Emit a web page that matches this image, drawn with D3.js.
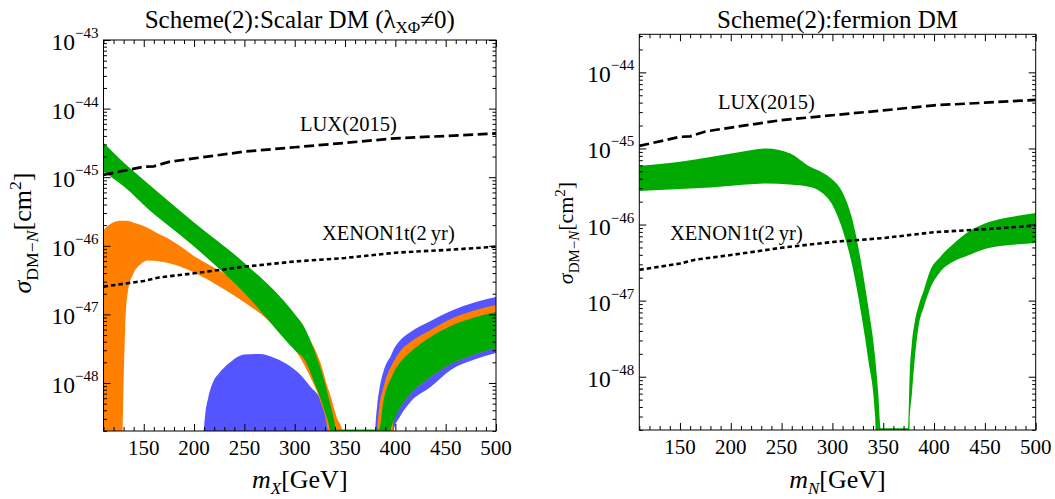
<!DOCTYPE html>
<html>
<head>
<meta charset="utf-8">
<script src="https://cdn.jsdelivr.net/npm/d3@7"></script>
<style>
  body { margin: 0; background: #fff; }
  svg { display: block; font-family: "Liberation Serif", "Times New Roman", serif; }
</style>
</head>
<body>
<svg id="chart" width="1055" height="499"></svg>
<script>
'use strict';

// ---- values (masses in GeV, cross sections in cm^2) ----
// 1e-50 marks a band edge that runs below the plotted range

var massTicks = [150, 200, 250, 300, 350, 400, 450, 500];

var luxMass = [110, 150, 160, 175, 200, 250, 300, 350, 400, 450, 500];
var lux2015 = [1.08e-45, 1.42e-45, 1.44e-45, 1.67e-45, 1.88e-45, 2.36e-45, 2.73e-45, 3.16e-45, 3.69e-45, 3.99e-45, 4.35e-45];

var xenonMass = [110, 150, 165, 200, 250, 300, 350, 400, 450, 500];
var xenon1t = [2.54e-47, 3.07e-47, 3.45e-47, 3.97e-47, 4.96e-47, 5.90e-47, 6.64e-47, 7.93e-47, 8.69e-47, 9.70e-47];

// scalar DM, green band
var scalarGreenMass = [110, 135, 150, 200, 250, 300, 310, 320, 330, 335, 338, 341.7, 343, 382, 384, 388, 393, 395, 398, 405, 415, 435, 455, 480, 500];
var scalarGreenLo = [1.20e-45, 6.40e-46, 3.94e-46, 9.77e-47, 2.05e-47, 3.03e-48, 2.16e-48, 9.67e-49, 3.78e-49, 1.95e-49,
  1e-50, 1e-50, 1e-50, 1e-50, 1e-50, 1e-50, 1e-50,
  1.95e-49, 2.70e-49, 4.47e-49, 6.92e-49, 1.22e-48, 1.89e-48, 2.65e-48, 3.24e-48];
var scalarGreenHi = [3.18e-45, 1.41e-45, 9.10e-46, 2.19e-46, 5.62e-47, 1.01e-47, 6.34e-48, 2.83e-48, 1.00e-48, 5.11e-49,
  3.42e-49, 2.1e-49, 2.1e-49, 2.1e-49, 2.1e-49, 5.29e-49, 9.67e-49,
  1.11e-48, 1.40e-48, 2.02e-48, 2.83e-48, 4.69e-48, 6.78e-48, 9.16e-48, 1.08e-47];

// scalar DM, orange band
var scalarOrangeMass = [110, 116, 122, 127, 128.9, 129.5, 131.5, 134.5, 139.5, 146,
  154, 166, 176, 186, 201, 226, 251, 275, 300, 305,
  315, 325, 333, 335, 342, 347.5, 349, 380, 382, 384,
  388, 393, 395, 398, 405, 415, 435, 455, 480, 500];
var scalarOrangeLo = [1e-50, 1e-50, 1e-50, 1e-50, 1.95e-49, 4.78e-49, 5.93e-48, 2.27e-47, 3.88e-47, 5.25e-47,
  6.11e-47, 5.90e-47, 5.52e-47, 4.99e-47, 4.01e-47, 2.51e-47, 1.47e-47, 7.88e-48, 3.08e-48, 2.39e-48,
  1.26e-48, 5.65e-49, 1.95e-49, 1e-50, 1e-50, 1e-50, 1e-50, 1e-50, 1e-50, 1e-50,
  1e-50, 1e-50, 1e-50, 2.70e-49, 4.47e-49, 6.92e-49, 1.22e-48, 1.89e-48, 2.65e-48, 3.24e-48];
var scalarOrangeHi = [1.70e-46, 2.04e-46, 2.26e-46, 2.32e-46, 2.32e-46, 2.32e-46, 2.31e-46, 2.30e-46, 2.19e-46, 2.04e-46,
  1.82e-46, 1.46e-46, 1.24e-46, 9.93e-47, 6.93e-47, 4.30e-47, 2.51e-47, 1.49e-47, 7.74e-48, 6.34e-48,
  4.24e-48, 2.09e-48, 8.45e-49, 6.92e-49, 3.09e-49, 1.95e-49, 1e-50, 1e-50, 1.95e-49, 4.32e-49,
  8.45e-49, 1.45e-48, 1.65e-48, 2.02e-48, 2.93e-48, 3.96e-48, 5.93e-48, 8.57e-48, 1.16e-47, 1.37e-47];

// scalar DM, blue band
var scalarBlueMass = [209.5, 211, 214, 219, 225, 235, 250, 265, 280, 295, 305, 315, 325, 331, 335,
  336, 379, 380, 382, 384, 388, 393, 395, 398, 405, 415, 435, 455, 480, 500];
var scalarBlueLo = [1e-50, 1e-50, 1e-50, 1e-50, 1e-50, 1e-50, 1e-50, 1e-50, 1e-50, 1e-50, 1e-50, 1e-50, 1e-50, 1e-50, 1e-50,
  1e-50, 1e-50, 1e-50, 1e-50, 1e-50, 1e-50, 1e-50, 1e-50, 1.95e-49, 3.30e-49, 5.29e-49, 8.75e-49, 1.55e-48, 2.24e-48, 2.74e-48];
var scalarBlueHi = [1.95e-49, 3.42e-49, 6.04e-49, 1.04e-48, 1.40e-48, 1.96e-48, 2.61e-48, 2.65e-48, 2.31e-48, 1.77e-48, 1.35e-48, 9.04e-49, 6.04e-49, 3.78e-49, 1.95e-49,
  1e-50, 1e-50, 1.95e-49, 4.78e-49, 7.91e-49, 1.45e-48, 2.16e-48, 2.4e-48, 3.03e-48, 4.24e-48, 5.54e-48, 8.01e-48, 1.12e-47, 1.52e-47, 1.79e-47];

// fermion DM, green band
var fermionMass = [110, 150, 180, 215, 235, 258, 278, 290, 300, 310,
  320, 328, 335, 342, 345, 347.5, 373.5, 374.5, 376, 378,
  381, 385, 390, 396, 406, 420, 432, 450, 465, 480, 500];
var fermionLo = [2.76e-46, 2.93e-46, 3.07e-46, 3.36e-46, 3.46e-46, 3.36e-46, 3.11e-46, 2.60e-46, 1.81e-46, 8.48e-47,
  2.69e-47, 7.10e-48, 1.76e-48, 3e-49, 1e-50, 1e-50, 1e-50, 1e-50, 2.54e-49, 5.58e-49,
  1.71e-48, 4.79e-48, 8.26e-48, 1.42e-47, 2.38e-47, 3.32e-47, 3.86e-47, 4.78e-47, 5.23e-47, 5.47e-47, 5.73e-47];
var fermionHi = [5.93e-46, 6.70e-46, 7.73e-46, 9.25e-46, 1.00e-45, 8.63e-46, 5.75e-46, 4.84e-46, 3.90e-46, 2.64e-46,
  1.11e-46, 3.32e-47, 8.77e-48, 1.82e-48, 6.3e-49, 2.1e-49, 2.1e-49, 2.1e-49, 1.05e-48, 2.61e-48,
  5.24e-48, 8.77e-48, 1.38e-47, 2.45e-47, 3.75e-47, 5.73e-47, 7.74e-47, 1.03e-46, 1.18e-46, 1.29e-46, 1.42e-46];

var scalarDecades = [-43, -44, -45, -46, -47, -48];
var fermionDecades = [-44, -45, -46, -47, -48];

var GREEN = '#00aa00', ORANGE = '#ff8000', BLUE = '#5555ff';

var svg = d3.select('#chart');

function drawPanel(p) {
  var x = d3.scaleLinear().domain([110, 500]).range([p.left, p.right]);
  var y = d3.scaleLog().domain([p.yMin, p.yMax]).range([p.bottom, p.top]);
  var g = svg.append('g');

  svg.append('clipPath').attr('id', 'clip-' + p.id)
    .append('rect')
      .attr('x', p.left).attr('y', p.top)
      .attr('width', p.right - p.left).attr('height', p.bottom - p.top);

  var plot = g.append('g').attr('clip-path', 'url(#clip-' + p.id + ')');

  var area = d3.area()
    .x(function(d) { return x(d.m); })
    .y0(function(d) { return y(d.lo); })
    .y1(function(d) { return y(d.hi); })
    .curve(d3.curveMonotoneX);

  p.bands.forEach(function(b) {
    var pts = b.mass.map(function(m, i) { return {m: m, lo: b.lo[i], hi: b.hi[i]}; });
    plot.append('path').attr('d', area(pts)).attr('fill', b.color);
  });

  var line = d3.line()
    .x(function(d) { return x(d.m); })
    .y(function(d) { return y(d.v); });

  plot.append('path')
    .attr('d', line(luxMass.map(function(m, i) { return {m: m, v: lux2015[i]}; })))
    .attr('fill', 'none').attr('stroke', '#000')
    .attr('stroke-width', 2.7).attr('stroke-dasharray', '10,4.5');

  plot.append('path')
    .attr('d', line(xenonMass.map(function(m, i) { return {m: m, v: xenon1t[i]}; })))
    .attr('fill', 'none').attr('stroke', '#000')
    .attr('stroke-width', 2.6).attr('stroke-dasharray', '4.5,3');

  // frame
  g.append('rect')
    .attr('x', p.left).attr('y', p.top)
    .attr('width', p.right - p.left).attr('height', p.bottom - p.top)
    .attr('fill', 'none').attr('stroke', '#000').attr('stroke-width', 1);

  var minorX = d3.range(110, 501, 10).filter(function(v) { return massTicks.indexOf(v) < 0; });
  var majorY = p.decades.map(function(d) { return Math.pow(10, d); });
  var minorY = [];
  d3.range(-49, -43).forEach(function(d) {
    d3.range(2, 10).forEach(function(k) {
      var v = k * Math.pow(10, d);
      if (v > p.yMin && v < p.yMax) minorY.push(v);
    });
  });

  function ticks(axis, vals, size, tr) {
    g.append('g').attr('transform', tr)
      .call(axis.tickValues(vals).tickSize(-size).tickFormat(''))
      .call(function(s) { s.select('.domain').remove(); });
  }

  ticks(d3.axisBottom(x), massTicks, 7, 'translate(0,' + p.bottom + ')');
  ticks(d3.axisBottom(x), minorX, 4, 'translate(0,' + p.bottom + ')');
  ticks(d3.axisTop(x), massTicks, 7, 'translate(0,' + p.top + ')');
  ticks(d3.axisTop(x), minorX, 4, 'translate(0,' + p.top + ')');
  ticks(d3.axisLeft(y), majorY, 7, 'translate(' + p.left + ',0)');
  ticks(d3.axisLeft(y), minorY, 3.5, 'translate(' + p.left + ',0)');
  ticks(d3.axisRight(y), majorY, 7, 'translate(' + p.right + ',0)');
  ticks(d3.axisRight(y), minorY, 3.5, 'translate(' + p.right + ',0)');

  // x tick labels
  g.selectAll('.xlab').data(massTicks).enter().append('text')
    .attr('x', function(d) { return x(d); })
    .attr('y', p.bottom + 24)
    .attr('text-anchor', 'middle')
    .attr('font-size', 21)
    .text(function(d) { return d; });

  // y tick labels 10^-n
  var yl = g.selectAll('.ylab').data(p.decades).enter().append('text')
    .attr('x', p.left - 5)
    .attr('y', function(d) { return y(Math.pow(10, d)) + 10; })
    .attr('text-anchor', 'end')
    .attr('font-size', 23.5)
    .text('10');
  yl.append('tspan').attr('dy', -12).attr('font-size', 15)
    .text(function(d) { return '\u2212' + (-d); });

  // title
  var t = g.append('text')
    .attr('x', (p.left + p.right) / 2).attr('y', 28)
    .attr('text-anchor', 'middle').attr('font-size', 25);
  p.title(t);

  // x axis title
  var xt = g.append('text')
    .attr('x', (p.left + p.right) / 2).attr('y', 488)
    .attr('text-anchor', 'middle').attr('font-size', 26);
  xt.append('tspan').attr('font-style', 'italic').text('m');
  xt.append('tspan').attr('font-style', 'italic').attr('font-size', 17).attr('dy', 6).text(p.massSym);
  xt.append('tspan').attr('dy', -6).text('[GeV]');

  // y axis title
  var fs = p.yTitleSize;
  var ytl = g.append('text')
    .attr('transform', 'translate(' + p.yTitleX + ',233) rotate(-90)')
    .attr('text-anchor', 'middle').attr('font-size', fs);
  ytl.append('tspan').attr('font-style', 'italic').text('\u03c3');
  ytl.append('tspan').attr('font-size', fs * 0.68).attr('dy', fs * 0.25).text('DM\u2212');
  ytl.append('tspan').attr('font-size', fs * 0.68).attr('font-style', 'italic').text('N');
  ytl.append('tspan').attr('dy', -fs * 0.25).text('[cm');
  ytl.append('tspan').attr('font-size', fs * 0.68).attr('dy', -fs * 0.38).text('2');
  ytl.append('tspan').attr('dy', fs * 0.38).text(']');

  // limit annotations
  p.notes.forEach(function(n) {
    g.append('text').attr('x', n.x).attr('y', n.y)
      .attr('font-size', 20.5).text(n.text);
  });
}

drawPanel({
  id: 'scalar',
  left: 103.5, right: 496, top: 40, bottom: 431,
  yMin: Math.pow(10, -48.7), yMax: 1e-43,
  decades: scalarDecades,
  massSym: 'X',
  yTitleX: 31, yTitleSize: 26,
  bands: [
    {mass: scalarBlueMass, lo: scalarBlueLo, hi: scalarBlueHi, color: BLUE},
    {mass: scalarOrangeMass, lo: scalarOrangeLo, hi: scalarOrangeHi, color: ORANGE},
    {mass: scalarGreenMass, lo: scalarGreenLo, hi: scalarGreenHi, color: GREEN}
  ],
  notes: [
    {x: 300, y: 131, text: 'LUX(2015)'},
    {x: 322, y: 240, text: 'XENON1t(2\u2009yr)'}
  ],
  title: function(t) {
    t.append('tspan').text('Scheme(2):Scalar DM (\u03bb');
    t.append('tspan').attr('font-size', 17).attr('dy', 5).text('X\u03a6');
    t.append('tspan').attr('dy', -5).text('\u22600)');
  }
});

drawPanel({
  id: 'fermion',
  left: 639.3, right: 1035.7, top: 34.3, bottom: 430,
  yMin: Math.pow(10, -48.7), yMax: Math.pow(10, -43.5),
  decades: fermionDecades,
  massSym: 'N',
  yTitleX: 573, yTitleSize: 22,
  bands: [
    {mass: fermionMass, lo: fermionLo, hi: fermionHi, color: GREEN}
  ],
  notes: [
    {x: 718, y: 109, text: 'LUX(2015)'},
    {x: 670, y: 240, text: 'XENON1t(2\u2009yr)'}
  ],
  title: function(t) {
    t.append('tspan').text('Scheme(2):fermion DM');
  }
});
</script>
</body>
</html>
